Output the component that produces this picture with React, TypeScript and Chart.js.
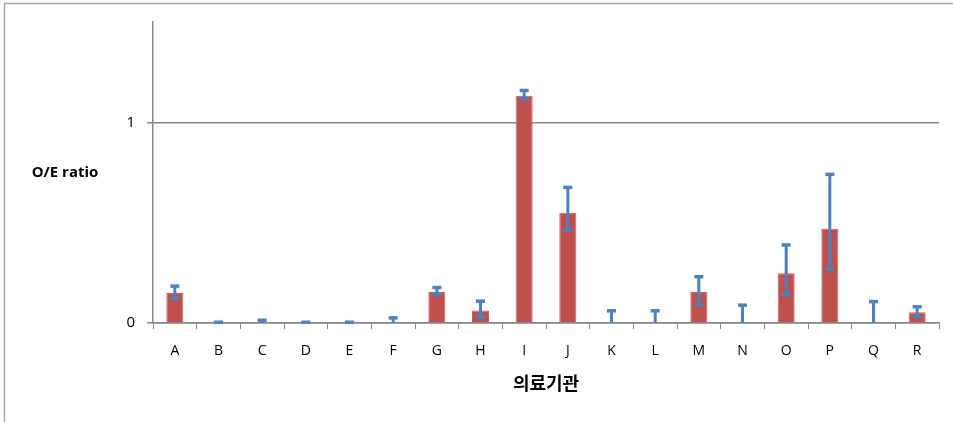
import React, { useEffect, useRef } from "react";
import { Chart, registerables } from "chart.js";

Chart.register(...registerables);

// Hospitals (의료기관) and their observed/expected ratios
const categories = ["A", "B", "C", "D", "E", "F", "G", "H", "I", "J", "K", "L", "M", "N", "O", "P", "Q", "R"];
const oeRatio = [0.15, 0, 0, 0, 0, 0, 0.155, 0.062, 1.132, 0.55, 0, 0, 0.155, 0, 0.248, 0.47, 0, 0.053];
const upperCI = [0.185, 0.005, 0.015, 0.005, 0.005, 0.027, 0.178, 0.11, 1.16, 0.677, 0.062, 0.062, 0.232, 0.09, 0.39, 0.742, 0.108, 0.082];
const lowerCI = [0.12, 0, 0, 0, 0, 0, 0.14, 0.028, 1.115, 0.462, 0, 0, 0.09, 0, 0.14, 0.268, 0, 0.032];
const yTicks = [0, 1];

const yTitle = "O/E ratio";
const xTitle = "의료기관";

const BAR = "#C0504D";
const ERR = "#4F81BD";
const AXIS = "#868686";
const FONT = "'Open Sans', 'Noto Sans', sans-serif";

// Confidence-interval whiskers drawn on top of the bars
const errorBars = {
  id: "errorBars",
  afterDatasetsDraw(chart: any) {
    const { ctx, scales } = chart;
    const xs = scales.x;
    const ys = scales.y;
    ctx.save();
    ctx.strokeStyle = ERR;
    ctx.fillStyle = ERR;
    ctx.lineWidth = 3;
    categories.forEach((_, i) => {
      const x = xs.getPixelForValue(i);
      const yHi = ys.getPixelForValue(upperCI[i]);
      const yLo = ys.getPixelForValue(lowerCI[i]);
      ctx.beginPath();
      ctx.moveTo(x, yHi);
      ctx.lineTo(x, yLo);
      ctx.stroke();
      ctx.fillRect(x - 4.5, yHi - 1.5, 9, 3.5);
      if (lowerCI[i] > 0) ctx.fillRect(x - 4.5, yLo - 2, 9, 3.5);
    });
    ctx.restore();
  },
};

// Outer frame and the axis titles
const frameAndTitles = {
  id: "frameAndTitles",
  beforeDraw(chart: any) {
    const { ctx } = chart;
    ctx.save();
    ctx.strokeStyle = "#A6A6A6";
    ctx.lineWidth = 1.5;
    ctx.strokeRect(4.5, 3.5, 2000, 2000);
    ctx.restore();
  },
  afterDraw(chart: any) {
    const { ctx, chartArea } = chart;
    ctx.save();
    ctx.fillStyle = "#000";
    ctx.textAlign = "center";
    ctx.textBaseline = "middle";
    ctx.font = `bold 15px ${FONT}`;
    ctx.fillText(yTitle, 65, 173);
    ctx.font = "bold 18px 'Noto Sans CJK KR', sans-serif";
    ctx.fillText(xTitle, (chartArea.left + chartArea.right) / 2, 383);
    ctx.restore();
  },
};

export default function App() {
  const ref = useRef<HTMLCanvasElement>(null);

  useEffect(() => {
    if (!ref.current) return;
    const chart = new Chart(ref.current, {
      type: "bar",
      data: {
        labels: categories,
        datasets: [
          {
            data: oeRatio,
            backgroundColor: BAR,
            borderColor: "#C85D5A",
            borderWidth: 1,
            categoryPercentage: 1,
            barPercentage: 0.39,
          },
        ],
      },
      options: {
        animation: false,
        responsive: false,
        layout: { padding: { top: 22, right: 14, bottom: 0, left: 0 } },
        plugins: { legend: { display: false }, tooltip: { enabled: false } },
        scales: {
          x: {
            offset: true,
            grid: {
              offset: true,
              drawOnChartArea: false,
              drawTicks: true,
              tickLength: 6,
              color: AXIS,
              lineWidth: 1,
            },
            border: { display: true, color: AXIS, width: 1.5 },
            ticks: { color: "#000", font: { family: FONT, size: 14 }, padding: 14, maxRotation: 0 },
            afterFit(s: any) {
              s.height = 99;
            },
          },
          y: {
            min: 0,
            max: 1.5,
            afterBuildTicks(s: any) {
              s.ticks = yTicks.map((v) => ({ value: v }));
            },
            grid: { color: AXIS, lineWidth: 1.5, drawTicks: true, tickLength: 6 },
            border: { display: true, color: AXIS, width: 1.5 },
            ticks: { color: "#000", font: { family: FONT, size: 15 }, padding: 12 },
            afterFit(s: any) {
              s.width = 153;
            },
          },
        },
      },
      plugins: [errorBars, frameAndTitles],
    });
    return () => chart.destroy();
  }, []);

  return (
    <div style={{ position: "fixed", left: 0, top: 0, width: 953, height: 422, background: "#fff" }}>
      <canvas ref={ref} width={953} height={422} />
    </div>
  );
}
